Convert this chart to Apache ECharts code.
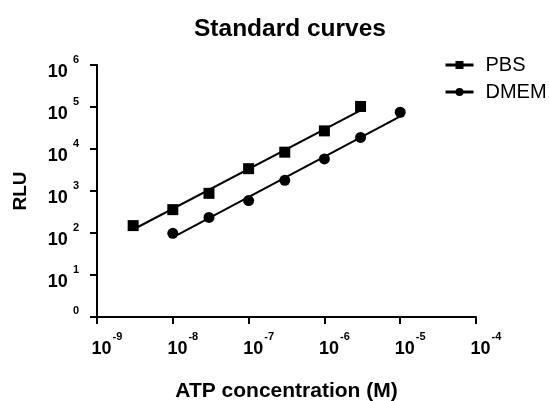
<!DOCTYPE html>
<html>
<head>
<meta charset="utf-8">
<script src="https://cdn.jsdelivr.net/npm/echarts@6/dist/echarts.min.js"></script>
<style>
  html, body { margin: 0; padding: 0; background: #fff; }
  #chart { width: 549px; height: 401px; }
</style>
</head>
<body>
<div id="chart"></div>
<script>
// ATP concentration (M) and RLU
const pbsConc = [3e-9, 1e-8, 3e-8, 1e-7, 3e-7, 1e-6, 3e-6];
const pbsRlu = [150, 360, 880, 3400, 8400, 27000, 103000];
const dmemConc = [1e-8, 3e-8, 1e-7, 3e-7, 1e-6, 3e-6, 1e-5];
const dmemRlu = [98, 235, 590, 1800, 5800, 18800, 75000];

const font = 'Liberation Sans, Arial, sans-serif';

// straight line fit in log-log space, drawn from first to last point
function fitLine(xs, ys) {
  const lx = xs.map(Math.log10), ly = ys.map(Math.log10);
  const n = lx.length;
  const mx = lx.reduce((a, b) => a + b, 0) / n;
  const my = ly.reduce((a, b) => a + b, 0) / n;
  let sxy = 0, sxx = 0;
  for (let i = 0; i < n; i++) {
    sxy += (lx[i] - mx) * (ly[i] - my);
    sxx += (lx[i] - mx) * (lx[i] - mx);
  }
  const slope = sxy / sxx, b = my - slope * mx;
  return [lx[0], lx[n - 1]].map(x => [Math.pow(10, x), Math.pow(10, slope * x + b)]);
}

const supRich = {
  b: { fontSize: 18, fontWeight: 'bold', color: '#000', fontFamily: font, verticalAlign: 'bottom', padding: [15, 5, 0, 0] },
  s: { fontSize: 11, fontWeight: 'bold', color: '#000', fontFamily: font, verticalAlign: 'top', padding: [6, 0, 0, 0] },
  z: { fontSize: 11, fontWeight: 'bold', color: '#000', fontFamily: font, padding: [0, 0, 12, 0] }
};
const xRich = {
  b: { fontSize: 18, fontWeight: 'bold', color: '#000', fontFamily: font, verticalAlign: 'bottom', padding: [9, 1, 0, 20] },
  s: { fontSize: 11, fontWeight: 'bold', color: '#000', fontFamily: font, verticalAlign: 'top' }
};
const expOf = v => Math.round(Math.log10(v));

const axisCommon = {
  type: 'log',
  logBase: 10,
  axisLine: { lineStyle: { color: '#000', width: 2 } },
  axisTick: { show: true, inside: false, length: 7, lineStyle: { color: '#000', width: 2 } },
  minorTick: { show: false },
  splitLine: { show: false },
  nameTextStyle: { fontFamily: font, fontWeight: 'bold', color: '#000' }
};

const chart = echarts.init(document.getElementById('chart'));
chart.setOption({
  animation: false,
  backgroundColor: '#fff',
  title: {
    text: 'Standard curves',
    left: 189,
    top: 12,
    textStyle: { fontFamily: font, fontWeight: 'bold', fontSize: 24.5, color: '#000' }
  },
  legend: {
    orient: 'vertical',
    left: 439,
    top: 50,
    itemWidth: 28,
    itemHeight: 10,
    itemGap: 7,
    data: ['PBS', 'DMEM'],
    lineStyle: { color: '#000', width: 3, opacity: 1 },
    textStyle: { fontFamily: font, fontSize: 20, color: '#000', padding: [0, 0, 0, 7] }
  },
  grid: { left: 97, right: 73, top: 65, bottom: 84, outerBoundsMode: 'none' },
  xAxis: Object.assign({}, axisCommon, {
    min: 1e-9,
    max: 1e-4,
    name: 'ATP concentration (M)',
    nameLocation: 'middle',
    nameGap: 64,
    nameTextStyle: Object.assign({}, axisCommon.nameTextStyle, { fontSize: 21 }),
    axisLabel: {
      margin: 14,
      formatter: v => '{b|10}{s|' + expOf(v) + '}',
      rich: xRich
    }
  }),
  yAxis: Object.assign({}, axisCommon, {
    min: 1,
    max: 1e6,
    name: 'RLU',
    nameLocation: 'middle',
    nameGap: 67,
    nameTextStyle: Object.assign({}, axisCommon.nameTextStyle, { fontSize: 19 }),
    axisLabel: {
      margin: 18,
      formatter: v => expOf(v) === 0 ? '{z|0}' : '{b|10}{s|' + expOf(v) + '}',
      rich: supRich
    }
  }),
  series: [
    {
      name: 'PBS fit',
      type: 'line',
      data: fitLine(pbsConc, pbsRlu),
      showSymbol: false,
      lineStyle: { color: '#000', width: 2 },
      z: 2
    },
    {
      name: 'DMEM fit',
      type: 'line',
      data: fitLine(dmemConc, dmemRlu),
      showSymbol: false,
      lineStyle: { color: '#000', width: 2 },
      z: 2
    },
    {
      name: 'PBS',
      type: 'line',
      data: pbsConc.map((x, i) => [x, pbsRlu[i]]),
      symbol: 'rect',
      symbolSize: 11,
      itemStyle: { color: '#000' },
      lineStyle: { opacity: 0 },
      z: 3
    },
    {
      name: 'DMEM',
      type: 'line',
      data: dmemConc.map((x, i) => [x, dmemRlu[i]]),
      symbol: 'circle',
      symbolSize: 11,
      itemStyle: { color: '#000' },
      lineStyle: { opacity: 0 },
      z: 3
    }
  ]
});
</script>
</body>
</html>
